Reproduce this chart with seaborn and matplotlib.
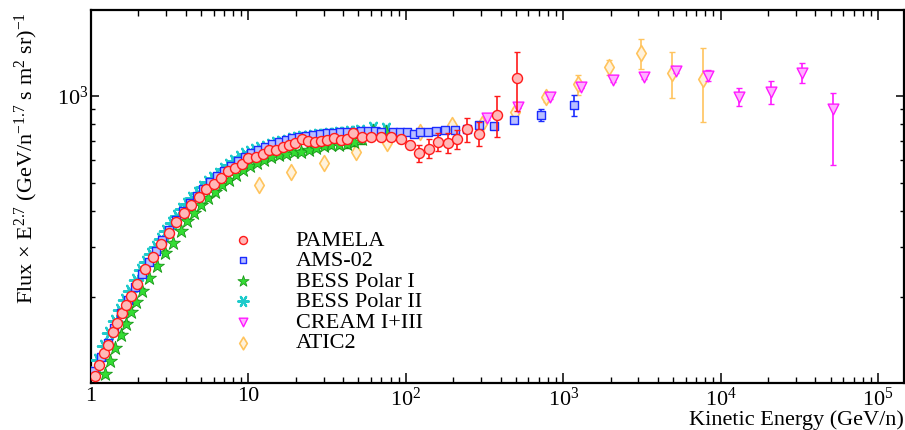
import matplotlib
matplotlib.use("Agg")
import matplotlib.pyplot as plt
import seaborn as sns
import numpy as np
from matplotlib.ticker import FixedLocator, FixedFormatter, NullFormatter

# ---------------- data ----------------
pam_E = [1.06, 1.12, 1.21, 1.29, 1.37, 1.46, 1.57, 1.67, 1.79, 1.95,
         2.19, 2.49, 2.80, 3.13, 3.48, 3.90, 4.34, 4.86, 5.40, 6.02,
         6.67, 7.39, 8.19, 9.07, 10.0, 11.2, 12.3, 13.6, 15.0, 16.5,
         18.0, 19.9, 21.8, 24.0, 26.5, 28.8, 31.7, 35.0, 38.6, 42.1,
         46.4, 52.7, 60.4, 69.9, 80.0, 92.8, 106, 122, 140, 161,
         185, 212, 244, 292, 378, 508]
pam_F = [107, 116, 128, 137, 151, 163, 176, 188, 202, 223,
         250, 277, 306, 335, 365, 392, 417, 445, 475, 496,
         518, 550, 561, 579, 608, 616, 629, 648, 650, 667,
         674, 685, 709, 698, 691, 700, 705, 713, 705, 708,
         742, 722, 722, 722, 721, 709, 675, 632, 657, 694,
         688, 708, 767, 740, 859, 1157]
pam_err = [2, 2, 2, 2, 2, 2, 2, 2, 2, 3,
           3, 3, 3, 3, 4, 4, 4, 4, 5, 5,
           5, 5, 6, 6, 6, 6, 6, 7, 7, 7,
           7, 7, 8, 8, 9, 10, 10, 12, 13, 15,
           24, 18, 18, 20, 20, 22, 22, 42, 50, 52,
           55, 55, 75, 70, 140, 268]

ams_E = [1.05, 1.16, 1.28, 1.41, 1.56, 1.72, 1.90, 2.10, 2.32, 2.57,
         2.84, 3.14, 3.47, 3.84, 4.24, 4.69, 5.18, 5.73, 6.33, 7.00,
         7.74, 8.55, 9.45, 10.4, 11.5, 12.8, 14.1, 15.6, 17.2, 19.0,
         21.0, 23.3, 25.7, 28.4, 31.4, 34.7, 38.4, 42.4, 46.9, 51.8,
         57.3, 63.3, 70.0, 83.3, 91.9, 101, 112, 123, 138, 155,
         177, 205, 244, 292, 365, 485, 719, 1177]
ams_F = [111, 124, 139, 156, 176, 196, 218, 241, 265, 290,
         316, 343, 371, 398, 424, 450, 477, 503, 527, 551,
         573, 593, 613, 632, 649, 665, 679, 692, 703, 713,
         722, 729, 735, 740, 744, 747, 750, 752, 753, 754,
         754, 754, 753, 752, 748, 748, 740, 748, 748, 756,
         764, 762, 770, 791, 789, 826, 859, 928]
ams_err = [2, 2, 2, 2, 2, 2, 2, 2, 2, 2,
           3, 3, 3, 3, 3, 3, 3, 4, 4, 4,
           4, 4, 4, 4, 5, 5, 5, 5, 5, 5,
           5, 5, 5, 5, 6, 6, 6, 6, 6, 6,
           7, 7, 7, 8, 8, 8, 9, 9, 10, 10,
           11, 12, 12, 13, 15, 20, 42, 77]

b1_E = [1.23, 1.32, 1.42, 1.55, 1.67, 1.80, 1.92, 2.12, 2.34, 2.62,
        2.97, 3.32, 3.73, 4.09, 4.5, 5.0, 5.5, 6.1, 6.8, 7.5,
        8.3, 9.2, 10.2, 11.3, 12.6, 14.0, 15.6, 17.4, 19.4, 21.6,
        24.1, 26.9, 30.0, 33.5, 37.5, 42, 47, 53, 61.6, 74.5]
b1_F = [108, 120, 133, 148, 162, 178, 193, 211, 233, 257,
        286, 310, 340, 368, 392, 418, 443, 466, 490, 512,
        532, 552, 570, 585, 600, 612, 622, 630, 637, 640,
        652, 662, 670, 676, 678, 680, 695, 708, 755, 750]
b1_err = [2, 2, 2, 3, 3, 3, 3, 4, 4, 4,
          5, 5, 5, 6, 6, 6, 7, 7, 7, 8,
          8, 8, 9, 9, 10, 10, 11, 11, 12, 13,
          14, 15, 16, 17, 18, 20, 22, 24, 28, 30]

b2_E = [1.03, 1.11, 1.21, 1.31, 1.42, 1.53, 1.65, 1.78, 1.92, 2.07,
        2.23, 2.40, 2.59, 2.79, 3.01, 3.25, 3.50, 3.78, 4.08, 4.40,
        4.75, 5.13, 5.54, 5.98, 6.46, 6.97, 7.53, 8.13, 8.78, 9.5,
        10.2, 11.0, 11.9, 12.9, 13.9, 15.0, 16.2, 17.5, 18.9, 20.4,
        22.0, 23.8, 25.7, 27.7, 29.9, 32.3, 34.9, 37.7, 40.7, 44.0,
        47.5, 51.3, 61.6, 74.5]
b2_F = [110, 121, 135, 150, 165, 181, 196, 211, 230, 248,
        266, 283, 300, 320, 341, 362, 384, 404, 422, 441,
        461, 483, 504, 520, 537, 560, 578, 595, 612, 627,
        640, 650, 660, 668, 677, 685, 693, 700, 708, 714,
        718, 722, 726, 730, 733, 736, 739, 742, 745, 748,
        751, 754, 772, 768]
b2_err = [2, 2, 2, 2, 3, 3, 3, 3, 3, 4,
          4, 4, 4, 5, 5, 5, 5, 6, 6, 6,
          6, 7, 7, 7, 7, 8, 8, 8, 9, 9,
          9, 10, 10, 10, 11, 11, 12, 12, 13, 13,
          14, 14, 15, 15, 16, 16, 17, 17, 18, 18,
          19, 19, 25, 25]

cr_E = [327, 518, 825, 1297, 2063, 3277, 5186, 8283, 13100, 20800, 32900, 52000]
cr_F = [837, 918, 990, 1077, 1137, 1167, 1224, 1178, 994, 1032, 1207, 899]
cr_err_lo = [8, 10, 12, 14, 16, 18, 22, 52, 72, 95, 100, 323]
cr_err_hi = [8, 10, 12, 14, 16, 18, 22, 52, 72, 95, 100, 128]

at_E = [11.6, 18.7, 30.2, 48.3, 76.3, 123, 196, 303, 494, 774,
        1236, 1963, 3121, 4933, 7767]
at_F = [491, 546, 584, 637, 685, 748, 793, 797, 882, 990,
        1098, 1258, 1407, 1205, 1143]
at_err = [8, 9, 10, 12, 14, 16, 20, 24, 30, 35,
          90, 75, 165, 222, 330]

x_ticks = [1, 10, 100, 1000, 1e4, 1e5]
x_ticklabels = ["1", "10", "$10^{2}$", "$10^{3}$", "$10^{4}$", "$10^{5}$"]
y_ticks = [1000]
y_ticklabels = ["$10^{3}$"]

# ---------------- style ----------------
sns.set_theme(style="ticks")
plt.rcParams["font.family"] = ["Liberation Serif", "DejaVu Serif"]
plt.rcParams["mathtext.fontset"] = "custom"
plt.rcParams["mathtext.rm"] = "Liberation Serif"
plt.rcParams["mathtext.it"] = "Liberation Serif:italic"
plt.rcParams["mathtext.bf"] = "Liberation Serif:bold"
plt.rcParams["mathtext.default"] = "regular"
for key in ["text.color", "axes.labelcolor", "xtick.color", "ytick.color",
            "axes.edgecolor"]:
    plt.rcParams[key] = "black"

fig = plt.figure(figsize=(9.05, 4.30), dpi=100)
ax = fig.add_axes([91 / 905, 1 - 383 / 430, 813 / 905, 373 / 430])
ax.set_xscale("log")
ax.set_yscale("log")

series = [
    ("PAMELA", pam_E, pam_F, [pam_err, pam_err], "o", "#FFB8B8", "#FF1A1A", 52, 1.0, 8),
    ("AMS-02", ams_E, ams_F, [ams_err, ams_err], "s", "#B8BEFF", "#1A2BFF", 36, 1.0, 5.5),
    ("BESS Polar I", b1_E, b1_F, [b1_err, b1_err], "*", "#33DD33", "#1A9A1A", 110, 0.6, 5),
    ("BESS Polar II", b2_E, b2_F, [b2_err, b2_err], (6, 2, 90), "#1ECBCB", "#1ECBCB", 90, 1.6, 4.5),
    ("CREAM I+III", cr_E, cr_F, [cr_err_lo, cr_err_hi], "v", "#FFB0FF", "#FF1AFF", 60, 1.0, 7),
    ("ATIC2", at_E, at_F, [at_err, at_err], "d", "#FFF2DC", "#FFC45E", 65, 1.2, 3),
]

for label, E, F, err, mk, face, edge, s, lw, z in series:
    ax.errorbar(E, F, yerr=err, fmt="none", ecolor=edge, elinewidth=1.2,
                capsize=2, capthick=1.0, zorder=z - 0.5)
    sns.scatterplot(x=E, y=F, ax=ax, marker=mk, s=s, color=face,
                    edgecolor=edge, linewidth=lw, label=label, zorder=z)

ax.set_xlim(1, 1.46e5)
ax.set_ylim(100.8, 1990)

ax.xaxis.set_major_locator(FixedLocator(x_ticks))
ax.xaxis.set_major_formatter(FixedFormatter(x_ticklabels))
x_minor = [m * 10 ** d for d in range(0, 5) for m in range(2, 10)]
ax.xaxis.set_minor_locator(FixedLocator(x_minor))
ax.xaxis.set_minor_formatter(NullFormatter())

ax.yaxis.set_major_locator(FixedLocator(y_ticks))
ax.yaxis.set_major_formatter(FixedFormatter(y_ticklabels))
ax.yaxis.set_minor_locator(FixedLocator([200, 300, 400, 500, 600, 700, 800, 900]))
ax.yaxis.set_minor_formatter(NullFormatter())

ax.tick_params(which="both", direction="in", top=True, right=True,
               colors="black", labelsize=16)
ax.tick_params(axis="x", which="major", length=7.5, width=1.1, pad=3)
ax.tick_params(axis="x", which="minor", length=4.2, width=1.0)
ax.tick_params(axis="y", which="major", length=6, width=1.1, pad=2)
ax.tick_params(axis="y", which="minor", length=3.2, width=1.0)
for sp in ax.spines.values():
    sp.set_linewidth(1.6)
    sp.set_color("black")

ax.set_xlabel("Kinetic Energy (GeV/n)", fontsize=16, loc="right", labelpad=0)
ax.set_ylabel("Flux \u00d7 E$^{2.7}$ (GeV/n$^{-1.7}$ s m$^{2}$ sr)$^{-1}$", fontsize=16)
ax.yaxis.set_label_coords(-0.0627, 0.603)

leg = ax.legend(loc="upper left", bbox_to_anchor=(0.1734, 0.41), frameon=False,
                fontsize=16, borderpad=0, labelspacing=0.0, handlelength=1.0,
                handletextpad=1.86, markerscale=0.8, borderaxespad=0)

fig.savefig("out.png", dpi=100)
